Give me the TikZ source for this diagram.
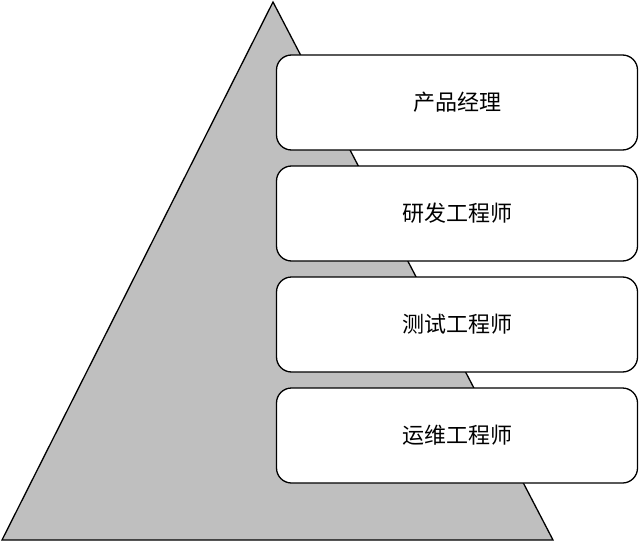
\documentclass[tikz,border=0pt]{standalone}
\usepackage{fontspec}
\setmainfont{Noto Sans CJK SC}
\begin{document}
\begin{tikzpicture}[x=1pt,y=-1pt,
        stufe/.style={draw=black,fill=white,line width=1.3pt,rounded corners=15pt,
            minimum width=361pt,minimum height=95pt,inner sep=0pt,
            font=\fontsize{22}{26}\selectfont}]
        \useasboundingbox (0,0) rectangle (640,543);
        \filldraw [draw=black,fill=gray!50,line width=1.3pt] (273,2) -- (553,540) -- (2,540) -- cycle;
        \node[stufe] (pm) at (457,102.5) {产品经理};
        \node[stufe] (dev) at (457,213.5) {研发工程师};
        \node[stufe] (test) at (457,324.5) {测试工程师};
        \node[stufe] (ops) at (457,435.5) {运维工程师};
    \end{tikzpicture}
\end{document}
